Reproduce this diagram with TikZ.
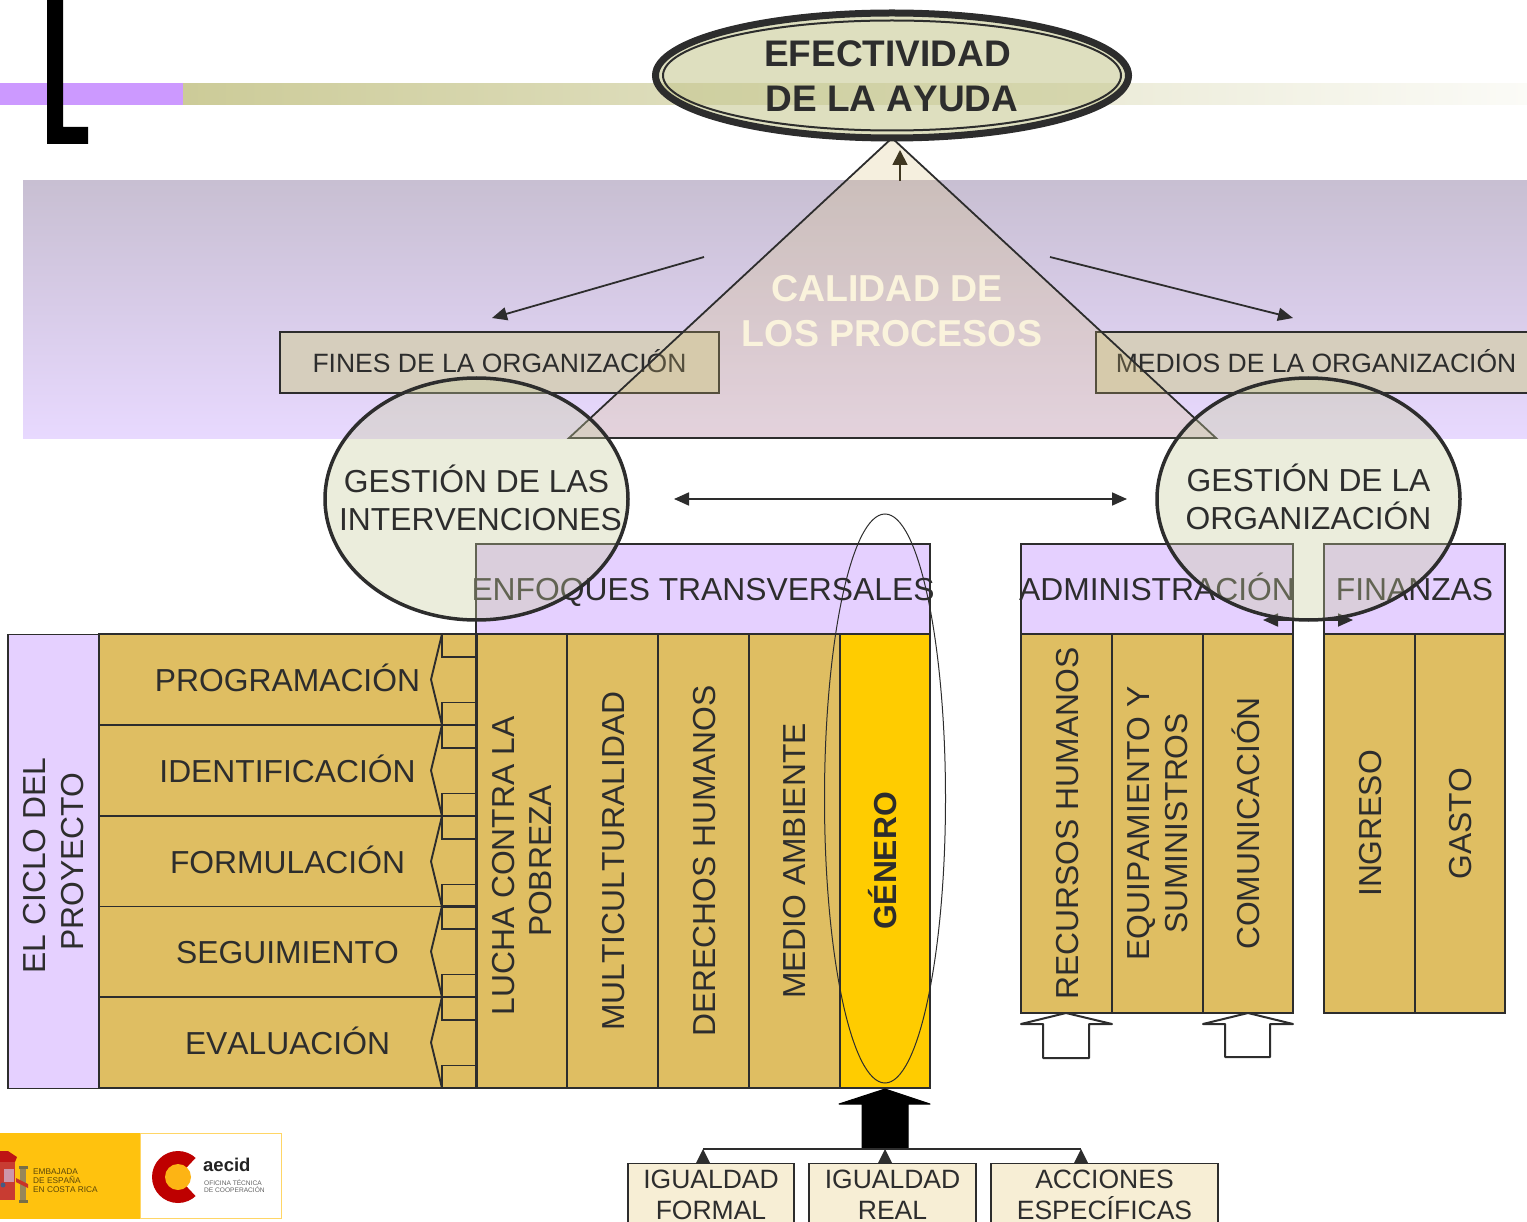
\documentclass[tikz,border=0pt]{standalone}
\usepackage{fontspec}
\setmainfont[Kerning=Off]{Liberation Sans}
\usetikzlibrary{arrows.meta,shapes.geometric}
\definecolor{ink}{RGB}{45,45,45}
\definecolor{gold}{RGB}{223,190,98}
\definecolor{lilac}{RGB}{229,208,255}
\definecolor{cream}{RGB}{247,238,213}
\definecolor{tan}{RGB}{214,206,189}
\definecolor{olive}{RGB}{204,203,152}
\tikzset{
  x=1pt,y=-1pt,
  boxbase/.style={draw=ink,line width=1.9pt,inner sep=0pt,outer sep=0pt,text=ink,align=center,
    font=\fontsize{31.8}{37.5}\selectfont},
  oneline/.style={text height=23pt,text depth=0pt},
  goldbox/.style={boxbase,fill=gold},
  lilacbox/.style={boxbase,fill=lilac},
  upcol/.style={goldbox,rotate=90},
  smallbox/.style={boxbase,fill=cream,font=\fontsize{26.5}{31}\selectfont,anchor=north},
  tanbox/.style={boxbase,fill=tan,font=\fontsize{26.5}{31}\selectfont,oneline,text height=21pt},
  bubble/.style={ellipse,draw=ink,line width=3.5pt,fill={rgb,255:red,198;green,204;blue,155},fill opacity=.35,
    minimum width=303pt,minimum height=242pt,inner sep=0pt},
  bubbletext/.style={text=ink,align=center,inner sep=0pt,font=\fontsize{31.8}{38}\selectfont},
  conn/.style={draw=ink,line width=1.8pt,-{Triangle[length=15pt,width=13pt]}},
  twoway/.style={draw=ink,line width=1.8pt,{Triangle[length=15pt,width=13pt]}-{Triangle[length=15pt,width=13pt]}},
  bigarrow/.style={draw=ink,line width=2pt,line join=round},
}
\begin{document}
\begin{tikzpicture}
\useasboundingbox (0,0) rectangle (1527,1222);
% top band
\fill[left color=olive,right color=olive!8!white] (183,83.5) rectangle (1527,105);
\fill[fill={rgb,255:red,204;green,153;blue,255}] (0,83.5) rectangle (183,105);
\fill[black] (47,-2) -- (63,-2) -- (63,127) -- (88,127) -- (88,144) -- (47,144) -- cycle;
% gradient panel
\fill[top color={rgb,255:red,200;green,191;blue,210},bottom color={rgb,255:red,232;green,217;blue,255}] (23,181) rectangle (1527,439);
% organisation boxes
\node[tanbox,minimum width=439pt,minimum height=61pt] (fines) at (499.5,362.5) {FINES DE LA ORGANIZACIÓN};
\node[tanbox,minimum width=444pt,minimum height=61pt] (medios) at (1318,362.5) {\makebox[0pt]{\hspace*{-4pt}MEDIOS DE LA ORGANIZACIÓN}};
% triangle
\filldraw[draw=ink,line width=1.8pt,fill={rgb,255:red,215;green,190;blue,115},fill opacity=.24] (892,138) -- (1216,438) -- (569,438) -- cycle;
\coordinate (riseA) at (900,181);
\coordinate (riseB) at (900,150);
\draw[draw={rgb,255:red,62;green,54;blue,32},line width=1.8pt,-{Triangle[length=15pt,width=15pt]}] (riseA) -- (riseB);
\node[text={rgb,255:red,250;green,243;blue,220},align=center,font=\bfseries\fontsize{37.5}{45}\selectfont] (calidad) at (892,311) {CALIDAD DE\hspace*{10pt}\\LOS PROCESOS};
% free arrows
\coordinate (leftA) at (704,257); \coordinate (leftB) at (492,318);
\coordinate (rightA) at (1050,257); \coordinate (rightB) at (1293,318);
\draw[conn] (leftA) -- (leftB);
\draw[conn] (rightA) -- (rightB);
% top ellipse
\node[ellipse,draw=ink,line width=7pt,fill={rgb,255:red,195;green,197;blue,139},fill opacity=.55,minimum width=473pt,minimum height=125pt,inner sep=0pt] (efect) at (892,75.5) {};
\node[ellipse,draw=ink,line width=2pt,minimum width=458pt,minimum height=110pt,inner sep=0pt] (efectin) at (892,75.5) {};
\node[text=ink,align=center,inner sep=0pt,font=\bfseries\fontsize{37}{45}\selectfont] (efecttext) at (892,76.5) {EFECTIVIDAD\hspace*{9pt}\\DE LA AYUDA};
% process rows
\foreach \n/\y/\t in {1/679.5/PROGRAMACIÓN,2/770.5/IDENTIFICACIÓN,3/861.5/FORMULACIÓN,4/952/SEGUIMIENTO,5/1042.5/EVALUACIÓN}{
  \node[goldbox,oneline,minimum width=377pt,minimum height=91pt] (row\n) at (287.5,\y) {\t};
}
\foreach \y in {634,725,816,906,997}{
  \draw[draw=ink,line width=1.9pt] (442,\y) -- (431,{\y+45.5}) -- (442,{\y+91});
  \draw[draw=ink,line width=1.7pt] (442,\y) rectangle (476,{\y+23});
  \draw[draw=ink,line width=1.7pt] (442,{\y+68.5}) rectangle (476,{\y+91});
}
\node[lilacbox,rotate=90,minimum width=454pt,minimum height=91pt] (ciclo) at (53.5,861.5) {EL CICLO DEL\hspace*{8pt}\\PROYECTO};
% transversal block
\node[lilacbox,oneline,minimum width=454pt,minimum height=90pt] (enfoques) at (703,589) {\makebox[0pt]{ENFOQUES TRANSVERSALES}};
\node[upcol,minimum width=454pt,minimum height=90.5pt] (lucha) at (522,861) {LUCHA CONTRA LA\hspace*{10pt}\\POBREZA};
\node[upcol,oneline,minimum width=454pt,minimum height=90.5pt] (multi) at (612.75,861) {MULTICULTURALIDAD};
\node[upcol,oneline,minimum width=454pt,minimum height=90.5pt] (derechos) at (703.5,861) {DERECHOS HUMANOS};
\node[upcol,oneline,minimum width=454pt,minimum height=90.5pt] (medio) at (794.25,861) {MEDIO AMBIENTE};
\node[upcol,oneline,fill={rgb,255:red,255;green,204;blue,0},minimum width=454pt,minimum height=90.5pt,font=\bfseries\fontsize{31.8}{37.5}\selectfont] (genero) at (885,861) {GÉNERO};
% right blocks
\node[lilacbox,oneline,minimum width=272pt,minimum height=90pt] (admin) at (1157,589) {\makebox[0pt]{ADMINISTRACIÓN}};
\node[lilacbox,oneline,minimum width=181pt,minimum height=90pt] (fin) at (1414.5,589) {FINANZAS};
\node[upcol,oneline,minimum width=379pt,minimum height=91pt] (rrhh) at (1066.5,823.5) {RECURSOS HUMANOS};
\node[upcol,minimum width=379pt,minimum height=91pt] (equip) at (1157.5,823.5) {EQUIPAMIENTO Y\\SUMINISTROS};
\node[upcol,oneline,minimum width=379pt,minimum height=90pt] (comu) at (1248,823.5) {COMUNICACIÓN};
\node[upcol,oneline,minimum width=379pt,minimum height=91pt] (ingreso) at (1369.5,823.5) {INGRESO};
\node[upcol,oneline,minimum width=379pt,minimum height=90pt] (gasto) at (1460,823.5) {GASTO};
% hollow arrows
\draw[bigarrow,fill=white] (1066,1013) -- (1112,1024) -- (1089,1024) -- (1089,1058) -- (1043,1058) -- (1043,1024) -- (1021,1024) -- cycle;
\draw[bigarrow,fill=white] (1248,1013) -- (1293,1024) -- (1270,1024) -- (1270,1057) -- (1225,1057) -- (1225,1024) -- (1203,1024) -- cycle;
% bottom
\node[smallbox,minimum width=166pt,minimum height=80pt] (formal) at (711,1163.5) {IGUALDAD\\FORMAL\rule[-17pt]{0pt}{17pt}};
\node[smallbox,minimum width=167pt,minimum height=80pt] (real) at (892.5,1163.5) {IGUALDAD\\REAL\rule[-17pt]{0pt}{17pt}};
\node[smallbox,minimum width=227pt,minimum height=80pt] (acciones) at (1104.5,1163.5) {ACCIONES\\ESPECÍFICAS\rule[-17pt]{0pt}{17pt}};
\coordinate (busL) at (703,1149); \coordinate (busM) at (885,1149); \coordinate (busR) at (1081,1149);
\fill[black,draw=black,line width=1pt,line join=round] (885,1089) -- (930,1104) -- (908,1104) -- (908,1149) -- (862,1149) -- (862,1104) -- (839,1104) -- cycle;
\draw[draw=ink,line width=2.2pt] (busL) -- (busR);
\fill[ink] (703,1149) -- (710,1163) -- (696,1163) -- cycle;
\fill[ink] (885,1149) -- (892,1163) -- (878,1163) -- cycle;
\fill[ink] (1081,1149) -- (1088,1163) -- (1074,1163) -- cycle;
% gestion bubbles
\coordinate (midL) at (674,499); \coordinate (midR) at (1127,499);
\draw[twoway] (midL) -- (midR);
\coordinate (wayL) at (1263,620); \coordinate (wayR) at (1353,620);
\draw[twoway] (wayL) -- (wayR);
\node[bubble] (gi) at (476.5,499) {};
\node[bubbletext] (gitext) at (480.5,497.5) {GESTIÓN DE LAS\hspace*{8pt}\\INTERVENCIONES};
\node[bubble] (go) at (1308.5,499) {};
\node[bubbletext] (gotext) at (1308.5,496.5) {GESTIÓN DE LA\\ORGANIZACIÓN};
% thin ellipse round GENERO
\node[ellipse,draw=ink,line width=1pt,minimum width=121pt,minimum height=569pt,inner sep=0pt] (genring) at (885,798.5) {};
% logo
\fill[fill={rgb,255:red,255;green,194;blue,14}] (0,1133) rectangle (140,1219);
\filldraw[fill=white,draw={rgb,255:red,255;green,214;blue,102},line width=1pt] (140,1133.5) rectangle (281,1218);
\fill[fill={rgb,255:red,190;green,20;blue,20}] (0,1151) -- (8,1151) -- (17,1157) -- (15,1162) -- (0,1162) -- cycle;
\fill[fill={rgb,255:red,200;green,60;blue,50}] (0,1162) rectangle (15,1200);
\fill[fill={rgb,255:red,205;green,150;blue,170}] (4,1169) rectangle (14,1182);
\fill[fill={rgb,255:red,70;green,90;blue,130}] (3,1185) circle[radius=2.5];
\fill[fill={rgb,255:red,150;green,135;blue,90}] (20,1168) rectangle (26,1202);
\fill[fill={rgb,255:red,120;green,110;blue,70}] (18.5,1166) rectangle (27.5,1169);
\fill[fill={rgb,255:red,120;green,110;blue,70}] (18.5,1200) rectangle (27.5,1203);
\fill[fill={rgb,255:red,200;green,50;blue,40}] (16,1178) -- (28,1184) -- (28,1188) -- (16,1182) -- cycle;
\node[anchor=west,inner sep=0pt,align=left,text={rgb,255:red,90;green,70;blue,10},font=\fontsize{8.3}{9}\selectfont] (emb) at (33,1181) {EMBAJADA\\DE ESPAÑA\\EN COSTA RICA};
\fill[fill={rgb,255:red,190;green,0;blue,0}] (178,1177) circle[radius=26];
\fill[white] (178,1177) -- (206,1147) -- (206,1207) -- cycle;
\fill[fill={rgb,255:red,253;green,180;blue,20}] (178,1177) circle[radius=13];
\node[anchor=west,inner sep=0pt,text={rgb,255:red,35;green,35;blue,35},font=\bfseries\fontsize{18.5}{20}\selectfont] (aecid) at (203,1165) {aecid};
\node[anchor=west,inner sep=0pt,align=left,text={rgb,255:red,100;green,100;blue,100},font=\fontsize{6.6}{7}\selectfont] (oficina) at (204,1186.5) {OFICINA TÉCNICA\\DE COOPERACIÓN};
\end{tikzpicture}
\end{document}
